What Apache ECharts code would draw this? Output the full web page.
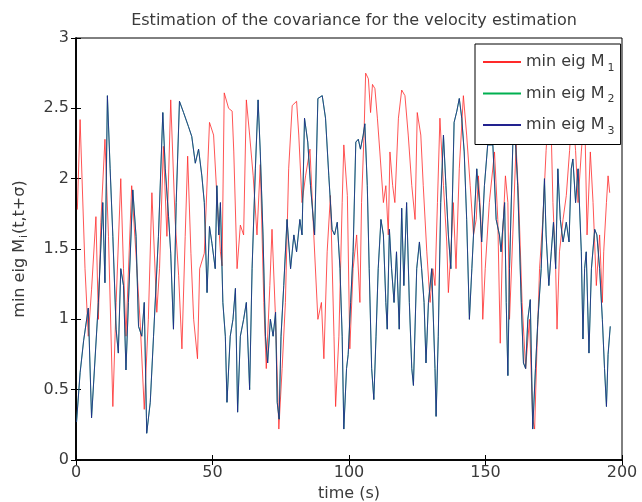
<!DOCTYPE html>
<html>
<head>
<meta charset="utf-8">
<script src="https://cdn.jsdelivr.net/npm/echarts@6/dist/echarts.min.js"></script>
<style>
  html, body { margin: 0; padding: 0; background: #fff; }
  #main { width: 642px; height: 502px; }
</style>
</head>
<body>
<div id="main"></div>
<script>
// min eig M1 (red)
const redT = [0.5, 1.5, 3.3, 4.5, 5.7, 7.3, 8.2, 9.1, 10.6, 11.9, 13.5, 14.7, 16.4, 17.4, 18.3, 20.4, 22.3, 23.5, 25.0, 26.5, 27.8, 29.6, 30.6, 32.0, 33.3, 34.7, 36.3, 37.6, 38.8, 40.0, 40.9, 42.1, 43.1, 44.5, 45.3, 47.0, 48.9, 50.4, 51.6, 52.9, 53.5, 54.3, 55.9, 57.2, 57.8, 59.0, 60.2, 61.4, 62.4, 63.6, 64.9, 66.3, 67.5, 68.8, 69.7, 71.0, 71.8, 73.1, 74.3, 75.5, 76.7, 77.9, 79.2, 80.8, 81.6, 82.8, 84.1, 85.7, 87.1, 88.6, 89.9, 90.8, 92.0, 93.2, 94.5, 95.1, 96.3, 97.5, 98.1, 99.4, 100.3, 101.5, 102.8, 104.0, 104.6, 105.5, 106.1, 107.1, 107.9, 108.6, 109.5, 110.4, 111.3, 112.6, 113.5, 114.4, 115.0, 116.0, 116.8, 118.1, 119.3, 120.5, 121.7, 123.0, 124.2, 125.0, 126.3, 127.2, 128.5, 129.7, 130.7, 131.5, 132.4, 133.3, 134.6, 135.8, 136.4, 137.3, 138.2, 139.2, 140.4, 141.9, 143.1, 144.4, 145.6, 146.6, 147.4, 148.3, 149.0, 149.9, 151.4, 153.3, 154.5, 155.4, 156.3, 157.3, 158.2, 158.8, 160.0, 161.2, 162.2, 163.4, 164.7, 166.1, 167.3, 168.0, 168.8, 169.8, 171.0, 172.2, 173.5, 174.1, 174.7, 175.7, 176.2, 177.1, 178.4, 179.6, 180.8, 181.8, 183.0, 183.9, 185.1, 186.3, 187.2, 188.4, 189.4, 190.6, 191.8, 192.8, 193.3, 194.3, 194.9, 195.5]
const redV = [1.78, 2.42, 1.36, 0.88, 1.21, 1.73, 1.00, 1.69, 2.28, 1.59, 0.38, 1.12, 2.00, 1.36, 0.88, 1.95, 1.36, 0.98, 0.36, 1.00, 1.90, 1.05, 1.36, 2.23, 1.59, 2.56, 1.71, 1.31, 0.79, 1.59, 2.16, 1.47, 1.00, 0.72, 1.36, 1.47, 2.40, 2.31, 1.88, 1.48, 1.38, 2.61, 2.50, 2.48, 2.19, 1.36, 1.67, 1.60, 2.56, 2.31, 2.02, 1.60, 2.10, 1.12, 0.65, 1.24, 1.64, 1.00, 0.22, 0.65, 1.12, 2.07, 2.52, 2.55, 2.31, 1.83, 2.02, 2.21, 1.60, 1.00, 1.12, 0.72, 1.48, 1.88, 0.88, 0.38, 0.88, 1.83, 2.24, 1.88, 0.79, 1.36, 1.60, 1.12, 1.83, 2.31, 2.75, 2.71, 2.47, 2.67, 2.64, 2.43, 2.19, 1.83, 1.95, 1.60, 2.19, 1.95, 1.83, 2.43, 2.63, 2.59, 2.31, 1.95, 1.71, 2.47, 2.31, 1.95, 1.48, 1.12, 1.36, 1.24, 1.83, 2.43, 1.95, 1.55, 1.19, 1.48, 1.83, 1.36, 2.07, 2.59, 2.31, 1.95, 1.60, 1.71, 2.02, 1.71, 1.00, 1.36, 1.83, 2.19, 1.71, 0.83, 1.60, 2.02, 1.83, 1.00, 1.60, 2.24, 1.83, 1.12, 0.65, 1.00, 0.29, 0.22, 0.76, 1.36, 1.71, 2.20, 2.60, 2.31, 1.83, 1.36, 0.93, 1.48, 1.71, 1.88, 2.20, 2.50, 2.20, 1.83, 2.19, 2.50, 1.60, 2.19, 1.83, 1.24, 1.60, 1.12, 1.48, 1.83, 2.02, 1.90]

// min eig M3 (blue); M2 (green) lies under it and is not visible
const blueT = [0.2, 1.5, 2.8, 4.5, 5.7, 8.2, 9.8, 10.6, 11.5, 12.5, 13.5, 14.7, 15.5, 16.4, 17.4, 18.3, 19.2, 20.8, 22.0, 22.9, 24.1, 25.0, 25.9, 27.2, 28.4, 30.2, 31.8, 32.7, 33.9, 34.7, 35.7, 36.7, 37.9, 39.4, 41.2, 42.4, 43.7, 44.9, 46.1, 47.0, 48.0, 48.9, 49.8, 51.0, 51.6, 52.3, 52.9, 53.8, 54.7, 55.3, 56.5, 57.5, 58.4, 59.2, 60.2, 61.4, 62.4, 63.6, 64.5, 65.7, 66.7, 67.5, 68.5, 69.4, 70.2, 71.2, 72.2, 73.1, 73.7, 74.4, 75.1, 76.1, 77.3, 78.6, 79.8, 80.8, 82.0, 82.8, 83.7, 84.9, 85.9, 87.4, 88.6, 90.2, 91.4, 92.6, 93.8, 94.7, 95.7, 96.7, 97.5, 98.1, 99.1, 99.7, 100.6, 101.5, 102.5, 103.4, 104.2, 105.2, 105.8, 106.7, 107.4, 108.3, 109.1, 109.9, 110.7, 111.7, 112.6, 113.5, 114.0, 114.8, 115.6, 116.5, 117.4, 118.4, 119.3, 120.1, 121.1, 122.1, 123.0, 123.6, 124.8, 125.8, 126.6, 127.5, 128.2, 129.1, 130.3, 131.5, 131.9, 132.7, 133.6, 134.6, 135.5, 136.4, 137.3, 138.5, 139.5, 140.4, 141.3, 142.2, 143.1, 144.1, 145.0, 146.8, 147.8, 148.6, 149.6, 150.8, 152.7, 153.9, 155.1, 155.7, 157.0, 157.6, 158.2, 158.8, 160.0, 161.0, 161.8, 163.1, 163.9, 164.7, 165.5, 166.4, 167.3, 168.3, 169.2, 170.4, 171.6, 172.2, 173.2, 174.1, 174.9, 175.7, 176.5, 177.4, 178.4, 179.6, 180.6, 181.4, 182.0, 183.0, 183.9, 185.1, 185.7, 186.3, 186.9, 187.9, 188.8, 190.0, 190.8, 191.8, 192.8, 193.6, 194.3, 194.9, 195.7]
const blueV = [0.27, 0.62, 0.85, 1.08, 0.30, 1.12, 1.83, 1.26, 2.59, 2.07, 1.59, 0.93, 0.76, 1.36, 1.24, 0.64, 1.12, 1.92, 1.59, 0.95, 0.88, 1.12, 0.19, 0.41, 0.88, 1.59, 2.47, 2.07, 1.73, 1.47, 0.93, 1.83, 2.55, 2.47, 2.37, 2.30, 2.11, 2.21, 2.02, 1.83, 1.19, 1.66, 1.54, 1.36, 1.95, 1.60, 1.83, 1.12, 0.88, 0.41, 0.88, 1.00, 1.22, 0.34, 0.88, 1.00, 1.12, 0.50, 1.36, 2.07, 2.56, 2.19, 1.60, 0.88, 0.69, 1.00, 0.88, 1.05, 0.41, 0.29, 0.88, 1.24, 1.71, 1.36, 1.60, 1.48, 1.71, 1.60, 2.43, 2.26, 1.95, 1.60, 2.57, 2.59, 2.43, 2.02, 1.64, 1.60, 1.69, 1.36, 0.88, 0.22, 0.65, 0.75, 1.12, 1.48, 2.26, 2.28, 2.21, 2.31, 2.39, 1.95, 1.36, 0.65, 0.43, 0.88, 1.36, 1.71, 1.60, 1.12, 0.93, 1.64, 1.36, 1.12, 1.48, 0.93, 1.79, 1.24, 1.83, 1.12, 0.65, 0.53, 1.36, 1.55, 1.36, 1.12, 0.69, 1.12, 1.36, 0.65, 0.31, 0.88, 1.83, 2.31, 1.95, 1.60, 1.36, 2.40, 2.48, 2.57, 2.43, 2.19, 1.71, 1.00, 1.36, 2.07, 1.83, 1.55, 1.95, 2.24, 2.24, 1.71, 1.60, 1.48, 1.83, 1.12, 0.60, 1.36, 2.24, 2.26, 1.95, 1.12, 0.69, 0.65, 1.00, 1.14, 0.22, 0.65, 1.00, 1.36, 2.00, 1.60, 1.24, 1.48, 1.69, 1.36, 2.07, 1.71, 1.55, 1.69, 1.55, 2.07, 2.14, 1.83, 2.07, 1.48, 0.86, 1.36, 1.48, 0.76, 1.36, 1.64, 1.60, 1.36, 1.00, 0.65, 0.38, 0.75, 0.95]
const greenT = blueT
const greenV = blueV

const seriesNames = ['min eig M1', 'min eig M2', 'min eig M3']
const xTicks = [0, 200, 50]   // min, max, interval
const yTicks = [0, 3, 0.5]

const font = 'DejaVu Sans'
const txt = '#3a3a3a'

const pairs = (t, v) => t.map((x, i) => [x, v[i]])

const chart = echarts.init(document.getElementById('main'))

const lineSeries = (name, t, v, color) => ({
  name,
  type: 'line',
  data: pairs(t, v),
  symbol: 'none',
  lineStyle: { color, width: 1, opacity: 0.8 },
  itemStyle: { color },
  animation: false
})

const tickAxis = {
  axisLine: { lineStyle: { color: '#000', width: 1.5 } },
  axisTick: { inside: true, length: 5, lineStyle: { color: '#000' } },
  splitLine: { show: false }
}

chart.setOption({
  animation: false,
  title: {
    text: 'Estimation of the covariance for the velocity estimation',
    left: 349,
    textAlign: 'center',
    top: 8,
    textStyle: { fontFamily: font, fontSize: 16, fontWeight: 'normal', color: txt }
  },
  grid: {
    left: 76, right: 20, top: 38, bottom: 42,
    outerBoundsMode: 'none', containLabel: false,
    show: true, borderColor: '#000', borderWidth: 1
  },
  legend: {
    orient: 'vertical',
    left: 475,
    top: 44,
    padding: [10, 6, 8, 8],
    itemGap: 12,
    itemWidth: 38,
    itemHeight: 2,
    icon: 'rect',
    backgroundColor: '#fff',
    borderColor: '#000',
    borderWidth: 1,
    z: 10,
    data: seriesNames,
    formatter: n => 'min eig M{sub|' + n.slice(-1) + '}',
    textStyle: {
      fontFamily: font, fontSize: 16, color: txt,
      rich: { sub: { fontFamily: font, fontSize: 11, color: txt, padding: [12, 0, 0, 3] } }
    }
  },
  xAxis: [
    Object.assign({
      type: 'value', min: xTicks[0], max: xTicks[1], interval: xTicks[2],
      name: 'time (s)', nameLocation: 'middle', nameGap: 23,
      nameTextStyle: { fontFamily: font, fontSize: 16, color: txt },
      axisLabel: { fontFamily: font, fontSize: 16, color: txt, margin: 5 }
    }, tickAxis),
    Object.assign({
      type: 'value', position: 'top', min: xTicks[0], max: xTicks[1], interval: xTicks[2],
      axisLabel: { show: false }
    }, tickAxis)
  ],
  yAxis: [
    Object.assign({
      type: 'value', min: yTicks[0], max: yTicks[1], interval: yTicks[2],
      name: 'min eig M{sub|i}(t,t+σ)', nameLocation: 'middle', nameGap: 46,
      nameTextStyle: {
        fontFamily: font, fontSize: 16, color: txt,
        rich: { sub: { fontFamily: font, fontSize: 11, color: txt, padding: [9, 1, 0, 1] } }
      },
      axisLabel: { fontFamily: font, fontSize: 16, color: txt, margin: 7 }
    }, tickAxis),
    Object.assign({
      type: 'value', position: 'right', min: yTicks[0], max: yTicks[1], interval: yTicks[2],
      axisLabel: { show: false }
    }, tickAxis)
  ],
  series: [
    lineSeries(seriesNames[0], redT, redV, '#ff2a2a'),
    lineSeries(seriesNames[1], greenT, greenV, '#00b050'),
    lineSeries(seriesNames[2], blueT, blueV, '#22228f')
  ]
})
</script>
</body>
</html>
